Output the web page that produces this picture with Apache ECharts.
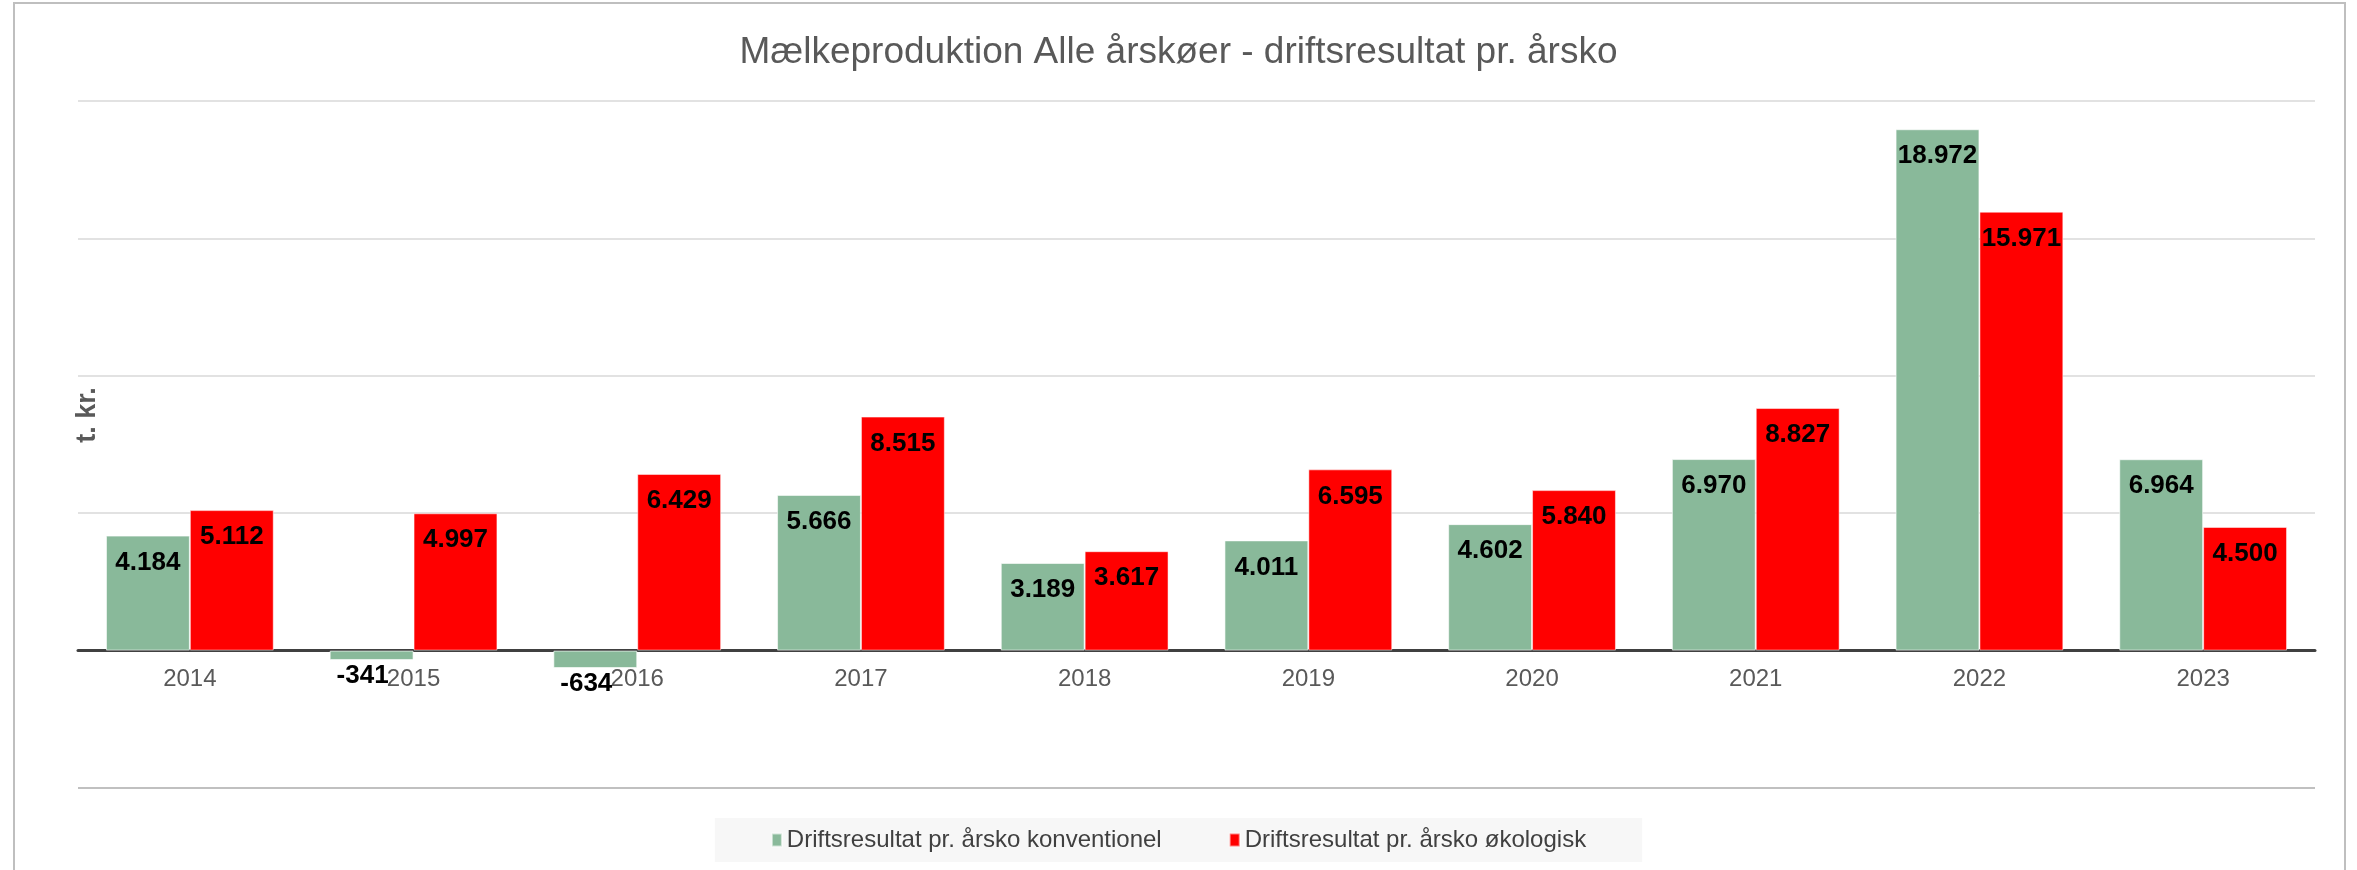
<!DOCTYPE html>
<html>
<head>
<meta charset="utf-8">
<script src="https://cdn.jsdelivr.net/npm/echarts@6/dist/echarts.min.js"></script>
<style>
  html, body { margin: 0; padding: 0; background: #fff; }
  #chart { width: 2357px; height: 870px; }
</style>
</head>
<body>
<div id="chart"></div>
<script>
// år og værdier (kr. pr. årsko)
const years = ['2014', '2015', '2016', '2017', '2018', '2019', '2020', '2021', '2022', '2023'];
const konventionel = [4184, -341, -634, 5666, 3189, 4011, 4602, 6970, 18972, 6964];
const oekologisk = [5112, 4997, 6429, 8515, 3617, 6595, 5840, 8827, 15971, 4500];
const seriesNames = ['Driftsresultat pr. årsko konventionel', 'Driftsresultat pr. årsko økologisk'];

const FONT = '"Liberation Sans", Arial, sans-serif';

const yMin = -5000, yMax = 20000, yStep = 5000;
const gridTop = 101, gridBottom = 82, chartH = 870;

// dansk tusindtalsseparator
function fmt(v) {
  let s = Math.abs(v).toString().replace(/\B(?=(\d{3})+(?!\d))/g, '.');
  return (v < 0 ? '-' : '') + s;
}

function toData(arr) {
  return arr.map(function (v) {
    if (v < 0) {
      // negative søjler: label under søjlen
      return { value: v, label: { position: 'bottom', distance: 3, offset: [-9, 0] } };
    }
    return v;
  });
}

const labelStyle = {
  show: true,
  position: 'insideTop',
  distance: 14,
  color: '#000',
  fontFamily: FONT,
  fontSize: 26,
  fontWeight: 'bold',
  formatter: function (p) { return fmt(p.value); }
};

// x-aksen skal sidde ved nul-linjen (labels med)
const gridH = chartH - gridTop - gridBottom;
const zeroOffset = -gridH * (0 - yMin) / (yMax - yMin);

const chart = echarts.init(document.getElementById('chart'), null, { renderer: 'canvas' });

const option = {
  backgroundColor: '#fff',
  animation: false,
  title: {
    text: 'Mælkeproduktion Alle årskøer - driftsresultat pr. årsko',
    left: 'center',
    top: 29,
    textStyle: { fontFamily: FONT, fontSize: 37, fontWeight: 'normal', color: '#595959' }
  },
  legend: {
    data: seriesNames,
    left: 'center',
    top: 818,
    backgroundColor: '#f7f7f7',
    padding: [10, 56],
    itemGap: 67,
    itemWidth: 10,
    itemHeight: 13,
    icon: 'rect',
    textStyle: { fontFamily: FONT, fontSize: 24, color: '#404040' }
  },
  grid: { left: 78, right: 42, top: gridTop, bottom: gridBottom },
  xAxis: {
    type: 'category',
    data: years,
    offset: zeroOffset,
    axisTick: { show: false },
    axisLine: { onZero: false, lineStyle: { color: '#404040', width: 3 } },
    axisLabel: { fontFamily: FONT, fontSize: 24, color: '#595959', margin: 17 }
  },
  yAxis: {
    type: 'value',
    min: yMin,
    max: yMax,
    interval: yStep,
    axisLabel: { show: false },
    axisLine: { show: false },
    axisTick: { show: false },
    splitLine: {
      lineStyle: { color: ['#ababab', '#d9d9d9', '#d9d9d9', '#d9d9d9', '#d9d9d9', '#d9d9d9'], width: 1.5 }
    }
  },
  graphic: [
    {
      type: 'rect',
      shape: { x: 14, y: 3, width: 2331, height: 900 },
      style: { fill: 'none', stroke: '#bfbfbf', lineWidth: 2 },
      silent: true
    },
    {
      type: 'text',
      x: 88,
      y: 415,
      rotation: Math.PI / 2,
      style: {
        text: 't. kr.',
        fontFamily: FONT,
        fontSize: 27,
        fontWeight: 'bold',
        fill: '#595959',
        align: 'center',
        verticalAlign: 'middle'
      }
    }
  ],
  series: [
    {
      name: seriesNames[0],
      type: 'bar',
      data: toData(konventionel),
      barGap: '0%',
      barCategoryGap: '25%',
      itemStyle: { color: '#89b99a', borderColor: 'rgba(255,255,255,0.6)', borderWidth: 1 },
      label: labelStyle
    },
    {
      name: seriesNames[1],
      type: 'bar',
      data: toData(oekologisk),
      barGap: '0%',
      barCategoryGap: '25%',
      itemStyle: { color: '#ff0000', borderColor: 'rgba(255,255,255,0.5)', borderWidth: 1 },
      label: labelStyle
    }
  ]
};

chart.setOption(option);
</script>
</body>
</html>
